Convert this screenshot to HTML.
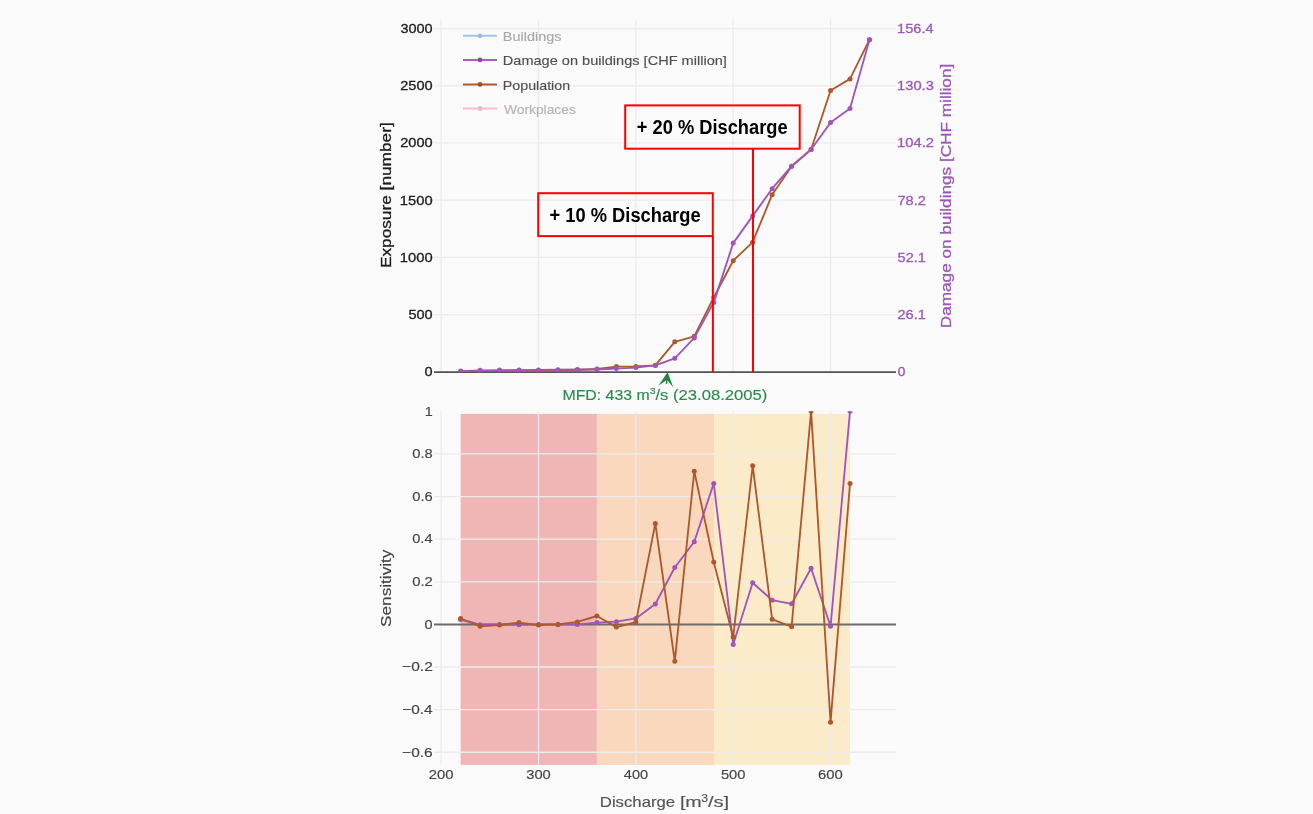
<!DOCTYPE html>
<html><head><meta charset="utf-8"><title>Exposure and sensitivity vs discharge</title>
<style>
html,body{margin:0;padding:0;background:#fafafa;}
body{width:1313px;height:814px;overflow:hidden;font-family:"Liberation Sans",sans-serif;}
svg{display:block;will-change:transform;}
text{font-family:"Liberation Sans",sans-serif;stroke:currentColor;stroke-width:0.3px;}
text.b{stroke-width:0;}
text.t{stroke-width:0.15px;}
</style></head><body>
<svg width="1313" height="814" viewBox="0 0 1313 814">
<rect x="0" y="0" width="1313" height="814" fill="#fafafa"/>
<defs><clipPath id="ct"><rect x="434" y="19.4" width="462" height="352.9"/></clipPath><clipPath id="cb"><rect x="434" y="411.3" width="462" height="353.2"/></clipPath></defs>
<g><rect x="460.62" y="413.9" width="136.29" height="351" fill="#f0b5b5"/><rect x="596.91" y="413.9" width="117.09" height="351" fill="#f9d8be"/><rect x="714" y="413.9" width="136.02" height="351" fill="#fcebc9"/></g>
<g stroke="#ececec" stroke-width="1.3" fill="none"><line x1="441.15" y1="19.4" x2="441.15" y2="372.3"/><line x1="441.15" y1="411.3" x2="441.15" y2="764.5"/><line x1="538.5" y1="19.4" x2="538.5" y2="372.3"/><line x1="538.5" y1="411.3" x2="538.5" y2="764.5"/><line x1="635.85" y1="19.4" x2="635.85" y2="372.3"/><line x1="635.85" y1="411.3" x2="635.85" y2="764.5"/><line x1="733.2" y1="19.4" x2="733.2" y2="372.3"/><line x1="733.2" y1="411.3" x2="733.2" y2="764.5"/><line x1="830.55" y1="19.4" x2="830.55" y2="372.3"/><line x1="830.55" y1="411.3" x2="830.55" y2="764.5"/><line x1="434" y1="314.67" x2="896" y2="314.67"/><line x1="434" y1="257.43" x2="896" y2="257.43"/><line x1="434" y1="200.2" x2="896" y2="200.2"/><line x1="434" y1="142.97" x2="896" y2="142.97"/><line x1="434" y1="85.73" x2="896" y2="85.73"/><line x1="434" y1="28.5" x2="896" y2="28.5"/><line x1="434" y1="453.94" x2="896" y2="453.94"/><line x1="434" y1="496.56" x2="896" y2="496.56"/><line x1="434" y1="539.17" x2="896" y2="539.17"/><line x1="434" y1="581.79" x2="896" y2="581.79"/><line x1="434" y1="667.01" x2="896" y2="667.01"/><line x1="434" y1="709.63" x2="896" y2="709.63"/><line x1="434" y1="752.24" x2="896" y2="752.24"/></g>
<line x1="434" y1="372.2" x2="896" y2="372.2" stroke="#525252" stroke-width="1.8"/><line x1="434" y1="624.45" x2="896" y2="624.45" stroke="#6c6c6c" stroke-width="1.9"/>
<g clip-path="url(#ct)"><polyline points="460.62,371.5 480.09,371 499.56,370.8 519.03,370.5 538.5,370.5 557.97,370.3 577.44,370 596.91,369 616.38,366.6 635.85,366.4 655.32,365.3 674.79,341.8 694.26,336.3 713.73,297.5 733.2,260.7 752.67,242.2 772.14,194.7 791.61,166.2 811.08,149.5 830.55,90.5 850.02,78.9 869.49,39.7" fill="none" stroke="#ad592c" stroke-width="1.85" stroke-linejoin="round"/><g fill="#ad592c"><circle cx="460.62" cy="371.5" r="2.5"/><circle cx="480.09" cy="371" r="2.5"/><circle cx="499.56" cy="370.8" r="2.5"/><circle cx="519.03" cy="370.5" r="2.5"/><circle cx="538.5" cy="370.5" r="2.5"/><circle cx="557.97" cy="370.3" r="2.5"/><circle cx="577.44" cy="370" r="2.5"/><circle cx="596.91" cy="369" r="2.5"/><circle cx="616.38" cy="366.6" r="2.5"/><circle cx="635.85" cy="366.4" r="2.5"/><circle cx="655.32" cy="365.3" r="2.5"/><circle cx="674.79" cy="341.8" r="2.5"/><circle cx="694.26" cy="336.3" r="2.5"/><circle cx="713.73" cy="297.5" r="2.5"/><circle cx="733.2" cy="260.7" r="2.5"/><circle cx="752.67" cy="242.2" r="2.5"/><circle cx="772.14" cy="194.7" r="2.5"/><circle cx="791.61" cy="166.2" r="2.5"/><circle cx="811.08" cy="149.5" r="2.5"/><circle cx="830.55" cy="90.5" r="2.5"/><circle cx="850.02" cy="78.9" r="2.5"/><circle cx="869.49" cy="39.7" r="2.5"/></g></g>
<g clip-path="url(#ct)"><polyline points="460.62,371.1 480.09,370.3 499.56,370.1 519.03,370.1 538.5,369.9 557.97,369.7 577.44,369.5 596.91,369.5 616.38,368.6 635.85,367.6 655.32,365.4 674.79,358.3 694.26,337.9 713.73,302.6 733.2,243.1 752.67,215.9 772.14,188.7 791.61,166.2 811.08,149.5 830.55,122.6 850.02,108.4 869.49,39.7" fill="none" stroke="#a055b7" stroke-width="1.85" stroke-linejoin="round"/><g fill="#a055b7"><circle cx="460.62" cy="371.1" r="2.5"/><circle cx="480.09" cy="370.3" r="2.5"/><circle cx="499.56" cy="370.1" r="2.5"/><circle cx="519.03" cy="370.1" r="2.5"/><circle cx="538.5" cy="369.9" r="2.5"/><circle cx="557.97" cy="369.7" r="2.5"/><circle cx="577.44" cy="369.5" r="2.5"/><circle cx="596.91" cy="369.5" r="2.5"/><circle cx="616.38" cy="368.6" r="2.5"/><circle cx="635.85" cy="367.6" r="2.5"/><circle cx="655.32" cy="365.4" r="2.5"/><circle cx="674.79" cy="358.3" r="2.5"/><circle cx="694.26" cy="337.9" r="2.5"/><circle cx="713.73" cy="302.6" r="2.5"/><circle cx="733.2" cy="243.1" r="2.5"/><circle cx="752.67" cy="215.9" r="2.5"/><circle cx="772.14" cy="188.7" r="2.5"/><circle cx="791.61" cy="166.2" r="2.5"/><circle cx="811.08" cy="149.5" r="2.5"/><circle cx="830.55" cy="122.6" r="2.5"/><circle cx="850.02" cy="108.4" r="2.5"/><circle cx="869.49" cy="39.7" r="2.5"/></g></g>
<g clip-path="url(#cb)"><polyline points="460.62,619.5 480.09,624.7 499.56,624.4 519.03,624.7 538.5,624.4 557.97,624.4 577.44,624.4 596.91,622.6 616.38,621.7 635.85,618.4 655.32,604 674.79,567.5 694.26,541.7 713.73,483.4 733.2,644.5 752.67,582.7 772.14,600.2 791.61,603.8 811.08,568.2 830.55,626.3 850.02,411.3" fill="none" stroke="#a055b7" stroke-width="1.85" stroke-linejoin="round"/><g fill="#a055b7"><circle cx="460.62" cy="619.5" r="2.5"/><circle cx="480.09" cy="624.7" r="2.5"/><circle cx="499.56" cy="624.4" r="2.5"/><circle cx="519.03" cy="624.7" r="2.5"/><circle cx="538.5" cy="624.4" r="2.5"/><circle cx="557.97" cy="624.4" r="2.5"/><circle cx="577.44" cy="624.4" r="2.5"/><circle cx="596.91" cy="622.6" r="2.5"/><circle cx="616.38" cy="621.7" r="2.5"/><circle cx="635.85" cy="618.4" r="2.5"/><circle cx="655.32" cy="604" r="2.5"/><circle cx="674.79" cy="567.5" r="2.5"/><circle cx="694.26" cy="541.7" r="2.5"/><circle cx="713.73" cy="483.4" r="2.5"/><circle cx="733.2" cy="644.5" r="2.5"/><circle cx="752.67" cy="582.7" r="2.5"/><circle cx="772.14" cy="600.2" r="2.5"/><circle cx="791.61" cy="603.8" r="2.5"/><circle cx="811.08" cy="568.2" r="2.5"/><circle cx="830.55" cy="626.3" r="2.5"/><circle cx="850.02" cy="411.3" r="2.5"/></g></g>
<g clip-path="url(#cb)"><polyline points="460.62,618.5 480.09,626.3 499.56,625.1 519.03,622.6 538.5,625.1 557.97,624.4 577.44,621.9 596.91,616 616.38,627.1 635.85,622.2 655.32,523.4 674.79,661.3 694.26,471.3 713.73,562 733.2,637.1 752.67,465.7 772.14,619.3 791.61,626.7 811.08,411.3 830.55,722.2 850.02,483.6" fill="none" stroke="#ad592c" stroke-width="1.85" stroke-linejoin="round"/><g fill="#ad592c"><circle cx="460.62" cy="618.5" r="2.5"/><circle cx="480.09" cy="626.3" r="2.5"/><circle cx="499.56" cy="625.1" r="2.5"/><circle cx="519.03" cy="622.6" r="2.5"/><circle cx="538.5" cy="625.1" r="2.5"/><circle cx="557.97" cy="624.4" r="2.5"/><circle cx="577.44" cy="621.9" r="2.5"/><circle cx="596.91" cy="616" r="2.5"/><circle cx="616.38" cy="627.1" r="2.5"/><circle cx="635.85" cy="622.2" r="2.5"/><circle cx="655.32" cy="523.4" r="2.5"/><circle cx="674.79" cy="661.3" r="2.5"/><circle cx="694.26" cy="471.3" r="2.5"/><circle cx="713.73" cy="562" r="2.5"/><circle cx="733.2" cy="637.1" r="2.5"/><circle cx="752.67" cy="465.7" r="2.5"/><circle cx="772.14" cy="619.3" r="2.5"/><circle cx="791.61" cy="626.7" r="2.5"/><circle cx="811.08" cy="411.3" r="2.5"/><circle cx="830.55" cy="722.2" r="2.5"/><circle cx="850.02" cy="483.6" r="2.5"/></g></g>
<g><text x="400.45" y="32.95" font-size="12.8" fill="#1c1c1c" color="#1c1c1c" textLength="32.21" lengthAdjust="spacingAndGlyphs">3000</text><text x="400.27" y="90.18" font-size="12.8" fill="#1c1c1c" color="#1c1c1c" textLength="32.39" lengthAdjust="spacingAndGlyphs">2500</text><text x="400.27" y="147.42" font-size="12.8" fill="#1c1c1c" color="#1c1c1c" textLength="32.39" lengthAdjust="spacingAndGlyphs">2000</text><text x="399.88" y="204.65" font-size="12.8" fill="#1c1c1c" color="#1c1c1c" textLength="32.79" lengthAdjust="spacingAndGlyphs">1500</text><text x="399.88" y="261.88" font-size="12.8" fill="#1c1c1c" color="#1c1c1c" textLength="32.79" lengthAdjust="spacingAndGlyphs">1000</text><text x="408.47" y="319.12" font-size="12.8" fill="#1c1c1c" color="#1c1c1c" textLength="24.19" lengthAdjust="spacingAndGlyphs">500</text><text x="424.58" y="376.35" font-size="12.8" fill="#1c1c1c" color="#1c1c1c" textLength="8.07" lengthAdjust="spacingAndGlyphs">0</text><text x="897.67" y="376.30" font-size="12.4" fill="#9b59b6" color="#9b59b6" textLength="7.61" lengthAdjust="spacingAndGlyphs">0</text><text x="897.47" y="319.06" font-size="12.4" fill="#9b59b6" color="#9b59b6" textLength="28.38" lengthAdjust="spacingAndGlyphs">26.1</text><text x="897.62" y="261.84" font-size="12.4" fill="#9b59b6" color="#9b59b6" textLength="28.23" lengthAdjust="spacingAndGlyphs">52.1</text><text x="897.46" y="204.60" font-size="12.4" fill="#9b59b6" color="#9b59b6" textLength="28.43" lengthAdjust="spacingAndGlyphs">78.2</text><text x="897.08" y="147.36" font-size="12.4" fill="#9b59b6" color="#9b59b6" textLength="36.86" lengthAdjust="spacingAndGlyphs">104.2</text><text x="897.08" y="90.14" font-size="12.4" fill="#9b59b6" color="#9b59b6" textLength="36.75" lengthAdjust="spacingAndGlyphs">130.3</text><text x="897.09" y="32.90" font-size="12.4" fill="#9b59b6" color="#9b59b6" textLength="36.54" lengthAdjust="spacingAndGlyphs">156.4</text><text x="424.81" y="415.63" font-size="12.8" fill="#444" color="#444" textLength="7.98" lengthAdjust="spacingAndGlyphs" class="t">1</text><text x="412.22" y="458.24" font-size="12.8" fill="#444" color="#444" textLength="20.51" lengthAdjust="spacingAndGlyphs" class="t">0.8</text><text x="412.22" y="500.86" font-size="12.8" fill="#444" color="#444" textLength="20.51" lengthAdjust="spacingAndGlyphs" class="t">0.6</text><text x="412.23" y="543.47" font-size="12.8" fill="#444" color="#444" textLength="20.29" lengthAdjust="spacingAndGlyphs" class="t">0.4</text><text x="412.22" y="586.09" font-size="12.8" fill="#444" color="#444" textLength="20.62" lengthAdjust="spacingAndGlyphs" class="t">0.2</text><text x="424.58" y="628.70" font-size="12.8" fill="#444" color="#444" textLength="8.07" lengthAdjust="spacingAndGlyphs" class="t">0</text><text x="402.14" y="671.31" font-size="12.8" fill="#444" color="#444" textLength="30.74" lengthAdjust="spacingAndGlyphs" class="t">−0.2</text><text x="402.15" y="713.93" font-size="12.8" fill="#444" color="#444" textLength="30.40" lengthAdjust="spacingAndGlyphs" class="t">−0.4</text><text x="402.14" y="756.54" font-size="12.8" fill="#444" color="#444" textLength="30.63" lengthAdjust="spacingAndGlyphs" class="t">−0.6</text><text x="428.71" y="778.70" font-size="12.8" fill="#444" color="#444" textLength="24.71" lengthAdjust="spacingAndGlyphs" class="t">200</text><text x="526.24" y="778.70" font-size="12.8" fill="#444" color="#444" textLength="24.52" lengthAdjust="spacingAndGlyphs" class="t">300</text><text x="623.83" y="778.70" font-size="12.8" fill="#444" color="#444" textLength="24.28" lengthAdjust="spacingAndGlyphs" class="t">400</text><text x="720.91" y="778.70" font-size="12.8" fill="#444" color="#444" textLength="24.55" lengthAdjust="spacingAndGlyphs" class="t">500</text><text x="818.11" y="778.70" font-size="12.8" fill="#444" color="#444" textLength="24.71" lengthAdjust="spacingAndGlyphs" class="t">600</text></g>
<g transform="translate(391.4,195.1) rotate(-90)"><text x="-73.02" y="0.00" font-size="14.6" fill="#1c1c1c" color="#1c1c1c" textLength="145.84" lengthAdjust="spacingAndGlyphs">Exposure [number]</text></g><g transform="translate(950.6,195.9) rotate(-90)"><text x="-132.31" y="0.00" font-size="14.6" fill="#9b59b6" color="#9b59b6" textLength="264.42" lengthAdjust="spacingAndGlyphs">Damage on buildings [CHF million]</text></g><g transform="translate(391.2,587.9) rotate(-90)"><text x="-39.07" y="0.00" font-size="14.6" fill="#444" color="#444" textLength="77.42" lengthAdjust="spacingAndGlyphs" class="t">Sensitivity</text></g>
<text x="599.83" y="807.40" font-size="14.6" fill="#555" color="#555" textLength="75.31" lengthAdjust="spacingAndGlyphs" class="t">Discharge</text><text x="679.90" y="807.40" font-size="14.6" fill="#555" color="#555" textLength="21.88" lengthAdjust="spacingAndGlyphs" class="t">[m</text><text x="701.34" y="801.60" font-size="11.2" fill="#555" color="#555" textLength="6.79" lengthAdjust="spacingAndGlyphs" class="t">3</text><text x="707.90" y="807.40" font-size="14.6" fill="#555" color="#555" textLength="21.33" lengthAdjust="spacingAndGlyphs" class="t">/s]</text>
<line x1="463" y1="35.8" x2="497" y2="35.8" stroke="#a2c2e2" stroke-width="2"/><circle cx="480" cy="35.8" r="2.4" fill="#9cbde0"/><text x="502.82" y="40.90" font-size="12.9" fill="#a8a8a8" color="#a8a8a8" textLength="58.61" lengthAdjust="spacingAndGlyphs" class="t">Buildings</text><line x1="463" y1="59.9" x2="497" y2="59.9" stroke="#a561b8" stroke-width="2"/><circle cx="480" cy="59.9" r="2.4" fill="#9443a8"/><text x="502.81" y="65.00" font-size="12.9" fill="#505050" color="#505050" textLength="224.12" lengthAdjust="spacingAndGlyphs" class="t">Damage on buildings [CHF million]</text><line x1="463" y1="84.4" x2="497" y2="84.4" stroke="#ab5a30" stroke-width="2"/><circle cx="480" cy="84.4" r="2.4" fill="#a3501f"/><text x="502.83" y="89.50" font-size="12.9" fill="#505050" color="#505050" textLength="67.28" lengthAdjust="spacingAndGlyphs" class="t">Population</text><line x1="463" y1="108.5" x2="497" y2="108.5" stroke="#f6bcd9" stroke-width="2"/><circle cx="480" cy="108.5" r="2.4" fill="#f4b2d2"/><text x="503.94" y="113.60" font-size="12.9" fill="#b4b4b4" color="#b4b4b4" textLength="71.85" lengthAdjust="spacingAndGlyphs" class="t">Workplaces</text>
<path fill="#23853f" d="M667.6,372.1 L658.5,385.7 L666.0,380.6 L665.9,384.0 L667.2,384.0 L667.5,380.6 L673.2,387.2 Z"/><text x="562.50" y="400.10" font-size="14.6" fill="#2b8a4c" color="#2b8a4c" textLength="87.13" lengthAdjust="spacingAndGlyphs" class="t">MFD: 433 m</text><text x="649.70" y="394.30" font-size="9.5" fill="#2b8a4c" color="#2b8a4c" textLength="5.85" lengthAdjust="spacingAndGlyphs" class="t">3</text><text x="655.50" y="400.10" font-size="14.6" fill="#2b8a4c" color="#2b8a4c" textLength="111.82" lengthAdjust="spacingAndGlyphs" class="t">/s (23.08.2005)</text>
<g fill="none" stroke="#ff0000" stroke-width="2"><rect x="538.2" y="193.2" width="174.6" height="42.9"/><rect x="625.2" y="105.4" width="174.5" height="43.3"/><line x1="712.9" y1="236" x2="712.9" y2="372"/><line x1="753" y1="148.7" x2="753" y2="372"/></g>
<text x="549.53" y="221.90" font-size="19.5" fill="#000" color="#000" textLength="151.10" lengthAdjust="spacingAndGlyphs" font-weight="bold" class="b">+ 10 % Discharge</text><text x="636.83" y="133.90" font-size="19.5" fill="#000" color="#000" textLength="150.80" lengthAdjust="spacingAndGlyphs" font-weight="bold" class="b">+ 20 % Discharge</text>
</svg>
</body></html>
